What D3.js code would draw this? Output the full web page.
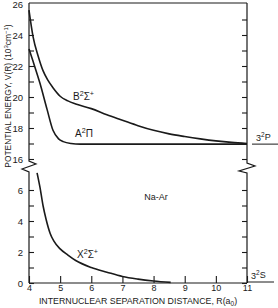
<!DOCTYPE html>
<html><head><meta charset="utf-8">
<script src="https://cdn.jsdelivr.net/npm/d3@7"></script>
<style>
html,body{margin:0;padding:0;background:#fff;}
svg{display:block;font-family:"Liberation Sans",Arial,Helvetica,sans-serif;}
</style></head>
<body>
<svg id="c" width="278" height="308"></svg>
<script>
// ---- data ----
const xTickValues = [4,5,6,7,8,9,10,11];
const upperTickValues = [16,17,18,19,20,21,22,23,24,25,26];
const upperTickLabels = [16,18,20,22,24,26];
const lowerTickValues = [0,1,2,3,4,5,6];
const lowerTickLabels = [0,2,4,6];

const bR = [4.0,4.13,4.3,4.45,4.6,4.77,5.0,5.25,5.5,6.0,6.5,7.0,7.5,8.0,8.5,9.0,9.5,10.0,10.5,11.0];
const bV = [25.6,23.9,22.6,21.7,21.1,20.6,20.05,19.75,19.55,19.25,18.85,18.5,18.15,17.85,17.62,17.45,17.3,17.17,17.07,17.0];

const aR = [4.0,4.13,4.35,4.58,4.77,4.95,5.1,5.35,5.65,6.0,7.0,8.0,9.0,10.0,11.0];
const aV = [23.1,22.3,20.9,19.2,17.85,17.3,17.12,17.0,16.96,16.96,16.96,16.96,16.96,16.96,16.96];

const xR = [4.26,4.35,4.45,4.55,4.68,4.8,5.0,5.25,5.5,6.0,6.5,7.0,7.5,8.0,8.55];
const xV = [7.1,6.2,5.0,4.1,3.2,2.7,2.2,1.8,1.45,1.0,0.7,0.42,0.25,0.13,0.04];

const level3P = 16.96;
const level3S = 0;

// ---- scales ----
const svg = d3.select("#c");
const ink = "#1a1a1a";
const x = d3.scaleLinear().domain([4,11]).range([29,247]);
const yU = d3.scaleLinear().domain([16,26]).range([159,4]);
const yL = d3.scaleLinear().domain([0,7]).range([283,174.5]);

// ---- axes ticks ----
function fmt(list){ return d => list.includes(d) ? d : ""; }
const axStyle = g => {
  g.select(".domain").remove();
  g.selectAll("line").attr("stroke", ink).attr("stroke-width", 1.1);
  g.selectAll("text").attr("fill", ink).attr("font-size", "9.5px");
};
svg.append("g").attr("transform","translate(29,0)")
  .call(d3.axisLeft(yU).tickValues(upperTickValues.filter(v=>v<26)).tickFormat(fmt(upperTickLabels)).tickSize(-5).tickPadding(6))
  .call(axStyle);
svg.append("g").attr("transform","translate(29,0)")
  .call(d3.axisLeft(yU).tickValues([26]).tickFormat(d3.format("d")).tickSize(0).tickPadding(6))
  .call(axStyle);
svg.append("g").attr("transform","translate(29,0)")
  .call(d3.axisLeft(yL).tickValues(lowerTickValues).tickFormat(fmt(lowerTickLabels)).tickSize(-5).tickPadding(6))
  .call(axStyle);
svg.append("g").attr("transform","translate(247,0)")
  .call(d3.axisRight(yU).tickValues(upperTickValues.filter(v=>v<26)).tickFormat("").tickSize(-5))
  .call(axStyle);
svg.append("g").attr("transform","translate(247,0)")
  .call(d3.axisRight(yL).tickValues(lowerTickValues).tickFormat("").tickSize(-5))
  .call(axStyle);
svg.append("g").attr("transform","translate(0,283)")
  .call(d3.axisBottom(x).tickValues(xTickValues).tickFormat(d3.format("d")).tickSize(-7).tickPadding(1.5))
  .call(g => { axStyle(g); g.selectAll("text").attr("font-size","9px"); });

// ---- frame with breaks ----
const fr = d3.line();
svg.append("path").attr("fill","none").attr("stroke",ink).attr("stroke-width",1.2)
  .attr("d", fr([[x(4),yU(26)-1],[x(4),161],[x(4)+7,164],[x(4)-7,169],[x(4),172],[x(4),yL(0)]]));
svg.append("path").attr("fill","none").attr("stroke",ink).attr("stroke-width",1.2)
  .attr("d", fr([[x(11),yU(26)-1],[x(11),163],[x(11)+8,166],[x(11)-8,171],[x(11),173],[x(11),yL(0)]]));
svg.append("path").attr("fill","none").attr("stroke",ink).attr("stroke-width",1.2)
  .attr("d", fr([[x(4),yU(26)-1],[x(11),yU(26)-1]]));
svg.append("path").attr("fill","none").attr("stroke",ink).attr("stroke-width",1.2)
  .attr("d", fr([[x(4),yL(0)],[x(11),yL(0)]]));

// ---- curves ----
const lineU = d3.line().x(d=>x(d[0])).y(d=>yU(d[1])).curve(d3.curveMonotoneX);
const lineL = d3.line().x(d=>x(d[0])).y(d=>yL(d[1])).curve(d3.curveMonotoneX);
const zip = (a,b) => a.map((v,i)=>[v,b[i]]);
svg.append("path").attr("fill","none").attr("stroke",ink).attr("stroke-width",1.6).attr("d", lineU(zip(bR,bV)));
svg.append("path").attr("fill","none").attr("stroke",ink).attr("stroke-width",1.6).attr("d", lineU(zip(aR,aV)));
svg.append("path").attr("fill","none").attr("stroke",ink).attr("stroke-width",1.6).attr("d", lineL(zip(xR,xV)));

// ---- asymptote markers ----
svg.append("line").attr("x1",252).attr("x2",278).attr("y1",yU(level3P)).attr("y2",yU(level3P)).attr("stroke",ink).attr("stroke-width",1);
svg.append("line").attr("x1",248).attr("x2",274).attr("y1",yL(level3S)-1).attr("y2",yL(level3S)-1).attr("stroke",ink).attr("stroke-width",1);

// ---- labels ----
function label(xp, yp, parts, size){
  const t = svg.append("text").attr("x",xp).attr("y",yp).attr("fill",ink).attr("font-size",size+"px");
  parts.forEach(p=>{
    const ts = t.append("tspan").text(p.t);
    if(p.sup){ ts.attr("font-size",(size*0.72)+"px").attr("dy",-size*0.4); }
    else if(p.sub){ ts.attr("font-size",(size*0.72)+"px").attr("dy",size*0.3); }
    if(p.back) ts.attr("dy", p.back);
  });
  return t;
}
label(73,100,[{t:"B"},{t:"2",sup:true},{t:"Σ",back:3.8},{t:"+",sup:true}],10);
label(75,137,[{t:"A"},{t:"2",sup:true},{t:"Π",back:3.8}],10);
label(77,258,[{t:"X"},{t:"2",sup:true},{t:"Σ",back:3.8},{t:"+",sup:true}],10);
svg.append("text").attr("x",156).attr("y",200).attr("text-anchor","middle").attr("fill",ink).attr("font-size","9px").text("Na-Ar");
label(256,141,[{t:"3"},{t:"2",sup:true},{t:"P",back:2.5}],9);
label(251,279,[{t:"3"},{t:"2",sup:true},{t:"S",back:2.5}],9);

// axis titles
const xt = svg.append("text").attr("x",138).attr("y",304).attr("text-anchor","middle").attr("fill",ink).attr("font-size","8.8px");
xt.append("tspan").text("INTERNUCLEAR SEPARATION DISTANCE, R(a");
xt.append("tspan").attr("font-size","6.5px").attr("dy",2).text("0");
xt.append("tspan").attr("dy",-2).text(")");

const yt = svg.append("text").attr("transform","translate(11,96) rotate(-90)").attr("text-anchor","middle").attr("fill",ink).attr("font-size","8.4px");
yt.append("tspan").text("POTENTIAL ENERGY, V(R) (10");
yt.append("tspan").attr("font-size","6px").attr("dy",-3).text("3");
yt.append("tspan").attr("dy",3).text("cm");
yt.append("tspan").attr("font-size","6px").attr("dy",-3).text("−1");
yt.append("tspan").attr("dy",3).text(")");
</script>
</body></html>
